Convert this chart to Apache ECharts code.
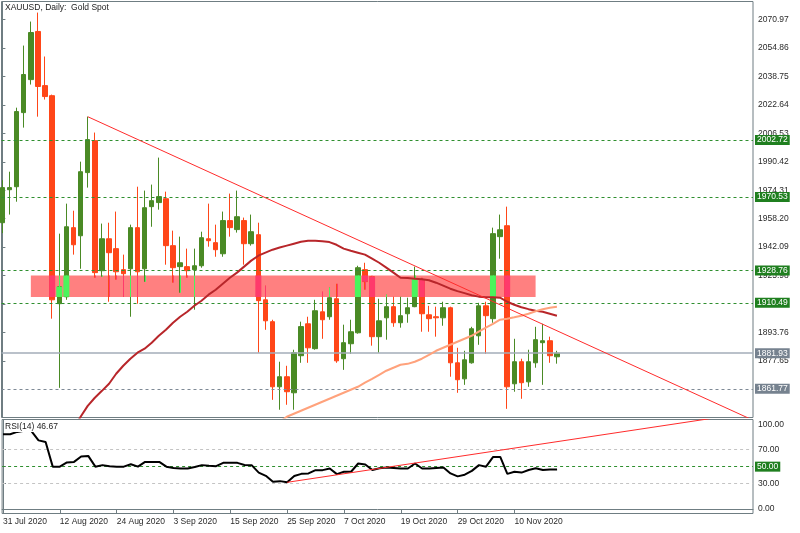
<!DOCTYPE html>
<html><head><meta charset="utf-8">
<script src="https://cdn.jsdelivr.net/npm/echarts@6/dist/echarts.min.js"></script>
<style>html,body{margin:0;padding:0;background:#fff}#c{width:800px;height:533px}</style>
</head><body><div id="c"></div>
<script>
// ---- data ----
// daily candles, index 0 = 31 Jul 2020 : [open, close, low, high]
const ohlc = [
[1955.9,1975.8,1950.0,1980.0],[1974.6,1975.8,1960.5,1984.8],[1976.3,2018.9,1967.8,2021.1],[2018.3,2039.9,2009.8,2056.3],
[2037.0,2063.7,2034.2,2069.9],[2064.3,2033.1,2016.0,2075.0],[2033.6,2027.4,2025.7,2050.1],[2027.9,1912.2,1901.5,2028.5],
[1910.0,1919.6,1862.3,1949.7],[1913.9,1953.6,1912.2,1966.7],[1953.1,1943.4,1937.8,1962.7],[1948.5,1984.8,1929.8,1990.5],
[1984.3,2003.0,1975.8,2016.0],[2002.4,1927.6,1924.7,2007.0],[1928.7,1946.8,1925.3,1955.4],[1946.8,1938.9,1911.1,1955.9],
[1941.2,1928.1,1923.6,1962.2],[1929.3,1927.0,1913.9,1937.8],[1929.8,1953.1,1902.6,1954.8],[1953.1,1928.1,1910.0,1976.3],
[1929.8,1964.4,1922.4,1974.1],[1965.0,1968.4,1953.6,1977.5],[1967.3,1970.7,1963.3,1992.8],[1969.5,1942.9,1932.1,1973.5],
[1942.9,1930.4,1921.9,1951.4],[1931.0,1933.2,1916.2,1948.0],[1931.0,1928.7,1924.7,1941.2],[1929.3,1931.5,1906.6,1941.2],
[1931.5,1947.4,1930.4,1950.8],[1946.8,1945.7,1942.3,1966.7],[1944.6,1940.6,1936.6,1954.8],[1938.3,1957.1,1936.6,1962.2],
[1957.1,1953.1,1948.0,1972.4],[1952.0,1959.3,1950.3,1974.1],[1957.1,1944.0,1932.1,1958.8],[1944.0,1950.8,1942.9,1960.5],
[1949.1,1911.7,1882.2,1955.9],[1912.2,1900.3,1895.2,1920.2],[1899.8,1862.9,1855.5,1900.9],[1862.9,1868.6,1849.9,1877.1],
[1868.6,1860.1,1852.7,1874.8],[1859.5,1882.2,1849.9,1883.9],[1880.5,1897.0,1876.5,1899.8],[1898.6,1885.0,1876.5,1902.6],
[1884.5,1906.0,1883.9,1912.2],[1905.4,1900.9,1890.1,1916.8],[1902.6,1913.4,1900.9,1919.1],[1912.8,1877.6,1876.5,1921.3],
[1878.8,1887.9,1872.5,1898.1],[1887.3,1894.1,1881.6,1900.9],[1893.5,1930.4,1893.0,1931.5],[1929.3,1922.5,1917.9,1933.2],
[1925.3,1891.3,1886.2,1925.8],[1891.3,1900.3,1882.2,1912.8],[1902.0,1908.3,1889.6,1915.1],[1908.3,1899.2,1896.9,1913.9],
[1899.2,1903.2,1896.4,1913.9],[1904.3,1907.7,1899.2,1913.4],[1908.3,1924.2,1908.0,1931.0],[1923.6,1904.3,1894.1,1924.7],
[1903.7,1901.5,1894.1,1908.8],[1902.6,1902.0,1891.3,1908.3],[1902.0,1907.7,1897.5,1911.1],[1907.7,1876.5,1868.6,1908.3],
[1876.5,1866.9,1859.5,1885.0],[1867.4,1878.2,1864.0,1883.3],[1876.5,1895.8,1876.0,1896.9],[1891.8,1908.8,1886.7,1910.5],
[1908.8,1903.2,1881.6,1911.1],[1901.5,1949.7,1899.2,1953.1],[1948.0,1951.9,1935.5,1960.5],[1954.2,1862.9,1850.4,1965.0],
[1864.6,1877.1,1860.1,1890.1],[1877.1,1865.2,1856.1,1878.8],[1865.7,1877.1,1862.9,1883.9],[1876.5,1889.6,1873.7,1896.9],
[1887.9,1889.0,1864.0,1898.6],[1889.0,1880.5,1876.5,1891.3],[1879.9,1881.93,1876.0,1883.3]
];
// slow moving average (dark red), starting at bar 10
const maSlowStart = 10;
const maSlow = [1839.0,1845.9,1852.1,1856.7,1860.6,1864.6,1870.3,1874.8,1878.8,1882.2,1884.5,1887.9,1891.8,1895.2,1899.2,
1902.6,1905.4,1908.8,1911.7,1915.1,1917.9,1921.3,1924.7,1927.6,1931.0,1934.4,1937.2,1938.9,1940.6,1941.8,1942.9,1944.0,
1945.1,1945.7,1945.7,1945.4,1944.9,1943.4,1941.2,1940.0,1938.9,1937.8,1935.5,1933.2,1930.4,1927.6,1924.7,1924.5,1924.2,
1923.9,1923.3,1921.9,1920.2,1918.5,1917.1,1916.0,1914.8,1914.0,1913.7,1913.7,1913.4,1911.1,1909.4,1908.0,1906.9,1906.0,
1905.4,1904.3,1903.2];
// second average (light orange), starting at bar 39
const maFastStart = 39;
const maFast = [1843.0,1845.9,1847.6,1849.3,1851.0,1852.7,1854.4,1856.1,1857.8,1859.5,1861.2,1862.9,1865.2,1867.4,1869.7,
1872.0,1873.7,1875.4,1875.9,1877.1,1878.8,1881.0,1883.3,1885.0,1886.7,1888.4,1890.1,1891.8,1894.1,1896.4,1898.6,1900.9,
1901.5,1902.3,1903.2,1904.3,1905.7,1906.9,1907.7,1908.3];
// RSI(14)
const rsi = [88.2,88.2,91.0,92.5,92.0,81.0,79.0,50.0,50.0,55.0,55.6,62.0,62.7,50.0,51.8,50.5,50.0,50.0,52.9,50.0,
55.6,55.6,55.6,50.0,48.5,47.8,47.8,49.5,51.8,51.0,50.6,54.5,54.5,54.5,52.0,51.8,43.0,39.2,32.2,32.9,
31.5,39.0,41.5,42.0,45.9,45.9,47.8,41.2,43.9,44.0,53.7,52.5,46.0,48.0,49.0,48.5,47.8,47.8,53.7,47.8,
47.8,48.5,49.0,42.0,38.5,40.5,45.0,51.8,50.0,61.5,61.5,41.5,43.9,43.0,46.0,48.0,46.0,46.5,46.67];
// trend lines [bar, value]
const priceTrend = [[12, 2016.0], [106, 1843.2]];
const rsiTrend = [[40, 31.5], [106, 114.9]];
// resistance zone
const zoneBars = [4, 75];
const zoneBand = [1913.8, 1926.0];
// horizontal levels
const greenLevels = [2002.72, 1970.53, 1928.76, 1910.49];
const bidLevel = 1881.93;
const grayLevel = 1861.77;
// axis ticks
const priceTicks = [2070.97,2054.86,2038.75,2022.64,2006.53,1990.42,1974.31,1958.20,1942.09,1925.98,1909.87,1893.76,1877.65];
const rsiTicks = [0, 30, 50, 70, 100];
const dateTicks = [0, 8, 16, 24, 32, 40, 48, 56, 64, 72];
const dateLabels = ['31 Jul 2020','12 Aug 2020','24 Aug 2020','3 Sep 2020','15 Sep 2020','25 Sep 2020','7 Oct 2020','19 Oct 2020','29 Oct 2020','10 Nov 2020'];

// ---- chart ----
const FONT = 'Liberation Sans';
const FS = 8.5;
const AX = '#6f7d82';
const BULL = '#4a8a25', BEAR = '#ff4618';
const BULLX = '#4af55c', BEARX = '#ff3a6b';
const X_MIN = -0.127, X_MAX = 105.58;

const chart = echarts.init(document.getElementById('c'), null, {renderer: 'canvas'});

function levelLine(v, color, type, width, tagBg) {
  return {
    yAxis: v,
    lineStyle: {color: color, type: type, width: width},
    label: {show: true, position: 'end', formatter: v.toFixed(2), color: '#fff', backgroundColor: tagBg,
      padding: [1, 2, 0, 2], fontSize: FS, fontFamily: FONT, distance: 2}
  };
}

const option = {
  animation: false,
  backgroundColor: '#fff',
  grid: [
    {left: 1.5, top: 1.5, width: 751.5, height: 416, show: true, borderColor: AX, borderWidth: 1, backgroundColor: 'transparent'},
    {left: 1.5, top: 419.5, width: 751.5, height: 94, show: true, borderColor: AX, borderWidth: 1, backgroundColor: 'transparent'}
  ],
  xAxis: [
    {gridIndex: 0, type: 'value', min: X_MIN, max: X_MAX, show: false},
    {gridIndex: 1, type: 'value', min: X_MIN, max: X_MAX, position: 'bottom',
      axisLine: {show: true, lineStyle: {color: AX}},
      axisTick: {show: true, customValues: dateTicks, length: 4, lineStyle: {color: AX}},
      axisLabel: {show: true, customValues: dateTicks, margin: 4, align: 'left', fontSize: FS, fontFamily: FONT, color: '#2a2a2a',
        formatter: function (v) { const k = dateTicks.indexOf(Math.round(v)); return k >= 0 ? dateLabels[k] : ''; }},
      splitLine: {show: false}}
  ],
  yAxis: [
    {gridIndex: 0, type: 'value', position: 'right', min: 1845.49, max: 2081.28, scale: true,
      axisLine: {show: true, lineStyle: {color: AX}},
      axisTick: {show: true, customValues: priceTicks, length: 3, lineStyle: {color: AX}},
      axisLabel: {show: true, customValues: priceTicks, margin: 5, fontSize: FS, fontFamily: FONT, color: '#2a2a2a',
        formatter: function (v) { return v.toFixed(2); }},
      splitLine: {show: false}},
    {gridIndex: 1, type: 'value', position: 'right', min: -5.31, max: 105.67,
      axisLine: {show: true, lineStyle: {color: AX}},
      axisTick: {show: true, customValues: rsiTicks, length: 3, lineStyle: {color: AX}},
      axisLabel: {show: true, customValues: rsiTicks, margin: 5, fontSize: FS, fontFamily: FONT, color: '#2a2a2a',
        formatter: function (v) { return v.toFixed(2); }},
      splitLine: {show: false}}
  ],
  graphic: [
    {type: 'text', left: 5, top: 3, z: 100, style: {text: 'XAUUSD, Daily:  Gold Spot', font: FS + 'px "' + FONT + '"', fill: '#222'}},
    {type: 'text', left: 4, top: 422, z: 100, style: {text: 'RSI(14) 46.67', font: FS + 'px "' + FONT + '"', fill: '#222',
      backgroundColor: '#fff', padding: [0, 1, 1, 1]}}
  ],
  series: [
    // resistance zone
    {type: 'custom', xAxisIndex: 0, yAxisIndex: 0, z: 1, silent: true,
      data: [[zoneBars[0], zoneBand[1], zoneBars[1], zoneBand[0]]],
      encode: {x: [0, 2], y: [1, 3]},
      renderItem: function (params, api) {
        const a = api.coord([api.value(0), api.value(1)]);
        const b = api.coord([api.value(2), api.value(3)]);
        return {type: 'rect', shape: {x: a[0], y: a[1], width: b[0] - a[0], height: b[1] - a[1]}, style: {fill: '#ff8080'}};
      }},
    // horizontal levels
    {type: 'line', xAxisIndex: 0, yAxisIndex: 0, data: [], clip: false, z: 2, silent: true,
      markLine: {silent: true, symbol: ['none', 'none'], animation: false,
        data: greenLevels.map(v => levelLine(v, '#2f8f2f', [3, 3], 1, '#1f7f1f'))
          .concat([levelLine(grayLevel, '#7f8a96', [3, 3], 1, '#76828f'), levelLine(bidLevel, '#a3adb8', 'solid', 1.5, '#76828f')])}},
    // candles
    {type: 'candlestick', xAxisIndex: 0, yAxisIndex: 0, z: 3, silent: true,
      dimensions: ['idx', 'open', 'close', 'lowest', 'highest'],
      encode: {x: 'idx', y: ['open', 'close', 'lowest', 'highest']},
      data: ohlc.map((d, i) => [i, d[0], d[1], d[2], d[3]]),
      barWidth: 5,
      itemStyle: {color: BULL, color0: BEAR, borderColor: BULL, borderColor0: BEAR, borderWidth: 1}},
    // candle parts inside the zone (inverted colors)
    {type: 'custom', xAxisIndex: 0, yAxisIndex: 0, z: 4, silent: true,
      data: ohlc.map((d, i) => [i]).filter(r => r[0] >= zoneBars[0] && r[0] <= zoneBars[1]),
      encode: {x: 0},
      renderItem: function (params, api) {
        const i = api.value(0);
        const d = ohlc[i];
        const bull = d[1] > d[0] || (d[1] === d[0] && i > 0 && d[1] >= ohlc[i - 1][1]);
        const col = bull ? BULLX : BEARX;
        const children = [];
        const wLo = Math.max(d[2], zoneBand[0]), wHi = Math.min(d[3], zoneBand[1]);
        if (wHi > wLo) {
          const a = api.coord([i, wHi]), b = api.coord([i, wLo]);
          const x = Math.round(a[0]) + 0.5;
          children.push({type: 'line', shape: {x1: x, y1: a[1], x2: x, y2: b[1]}, style: {stroke: col, lineWidth: 1}});
        }
        const bLo = Math.max(Math.min(d[0], d[1]), zoneBand[0]), bHi = Math.min(Math.max(d[0], d[1]), zoneBand[1]);
        if (bHi > bLo) {
          const a = api.coord([i, bHi]), b = api.coord([i, bLo]);
          children.push({type: 'rect', shape: {x: a[0] - 3, y: a[1], width: 6, height: b[1] - a[1]}, style: {fill: col}});
        }
        return {type: 'group', children: children};
      }},
    // moving averages
    {type: 'line', xAxisIndex: 0, yAxisIndex: 0, z: 5, silent: true, showSymbol: false, symbol: 'none', clip: true,
      data: maSlow.map((v, k) => [maSlowStart + k, v]), lineStyle: {color: '#b8262a', width: 2}},
    {type: 'line', xAxisIndex: 0, yAxisIndex: 0, z: 5, silent: true, showSymbol: false, symbol: 'none', clip: true,
      data: maFast.map((v, k) => [maFastStart + k, v]), lineStyle: {color: '#ffa27c', width: 2}},
    // price trend line
    {type: 'line', xAxisIndex: 0, yAxisIndex: 0, z: 6, silent: true, showSymbol: false, symbol: 'none', clip: true,
      data: priceTrend, lineStyle: {color: '#ff2b2b', width: 1}},
    // RSI levels
    {type: 'line', xAxisIndex: 1, yAxisIndex: 1, data: [], clip: false, z: 2, silent: true,
      markLine: {silent: true, symbol: ['none', 'none'], animation: false,
        data: [
          {yAxis: 70, lineStyle: {color: '#c4c4c4', type: [3, 3], width: 1}, label: {show: false}},
          {yAxis: 30, lineStyle: {color: '#c4c4c4', type: [3, 3], width: 1}, label: {show: false}},
          levelLine(50, '#2f8f2f', [3, 3], 1, '#1f7f1f')
        ]}},
    // RSI
    {type: 'line', xAxisIndex: 1, yAxisIndex: 1, z: 5, silent: true, showSymbol: false, symbol: 'none', clip: true,
      data: rsi.map((v, i) => [i, v]), lineStyle: {color: '#000', width: 2}},
    {type: 'line', xAxisIndex: 1, yAxisIndex: 1, z: 6, silent: true, showSymbol: false, symbol: 'none', clip: true,
      data: rsiTrend, lineStyle: {color: '#ff2b2b', width: 1}}
  ]
};
chart.setOption(option);
</script>
</body></html>
